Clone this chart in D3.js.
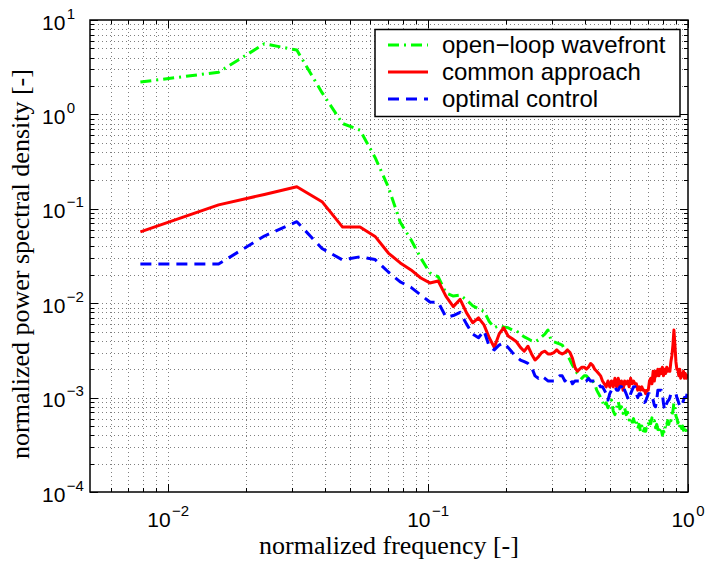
<!DOCTYPE html>
<html>
<head>
<meta charset="utf-8">
<script src="https://cdn.jsdelivr.net/npm/d3@7"></script>
<style>
  html, body { margin: 0; padding: 0; background: #fff; }
  svg { display: block; }
</style>
</head>
<body>
<svg id="chart" width="707" height="563"></svg>
<script>
// Spectra sampled on a uniform grid: f = k / 128, k = 1..128
const binCount = 128;
const freqs = d3.range(1, binCount + 1).map(k => k / binCount);

const openLoop = [
  2.2, 2.8, 5.6, 4.8, 1.7, 0.8, 0.68, 0.35, 0.17, 0.072,
  0.047, 0.030, 0.021, 0.019, 0.0128, 0.0119, 0.0122, 0.0108, 0.0094, 0.0087,
  0.0082, 0.0064, 0.0055, 0.0058, 0.0056, 0.0055, 0.0052, 0.0051, 0.0047, 0.0044,
  0.0042, 0.0040, 0.0039, 0.0041, 0.0044, 0.0047, 0.0052, 0.0041, 0.0039, 0.0038,
  0.0037, 0.0036, 0.0032, 0.0028, 0.0025, 0.0022, 0.0020, 0.0018, 0.0017, 0.0016,
  0.0017, 0.0017, 0.0016, 0.0015, 0.0015, 0.0014, 0.0012, 0.0011, 0.0010, 0.00091,
  0.00080, 0.00088, 0.00078, 0.00092, 0.00094, 0.00072, 0.00066, 0.00078, 0.00091, 0.00076,
  0.00080, 0.00068, 0.00078, 0.00066, 0.00070, 0.00058, 0.00062, 0.00055, 0.00060, 0.00052,
  0.00056, 0.00047, 0.00052, 0.00044, 0.00050, 0.00043, 0.00047, 0.00044, 0.00053, 0.00052,
  0.00060, 0.00053, 0.00061, 0.00055, 0.00057, 0.00048, 0.00052, 0.00046, 0.00050, 0.00043,
  0.00046, 0.00040, 0.00044, 0.00042, 0.00054, 0.00052, 0.00057, 0.00052, 0.00060, 0.00057,
  0.00066, 0.00072, 0.00088, 0.00080, 0.00064, 0.00060, 0.00054, 0.00057, 0.00050, 0.00053,
  0.00047, 0.00050, 0.00045, 0.00047, 0.00043, 0.00045, 0.00041, 0.00042
];

const commonApproach = [
  0.057, 0.11, 0.142, 0.171, 0.119, 0.064, 0.064, 0.051, 0.034, 0.0267,
  0.0225, 0.0185, 0.0164, 0.0172, 0.0118, 0.0092, 0.0110, 0.0079, 0.0062, 0.0070,
  0.0059, 0.0043, 0.0034, 0.0047, 0.0055, 0.0045, 0.0042, 0.0039, 0.0034, 0.0031,
  0.0035, 0.0029, 0.0025, 0.0027, 0.0030, 0.0031, 0.0029, 0.0029, 0.0030, 0.0032,
  0.0030, 0.0029, 0.0030, 0.0032, 0.0030, 0.0026, 0.0021, 0.0019, 0.0020, 0.0021,
  0.0021, 0.0020, 0.0021, 0.0023, 0.0022, 0.0020, 0.0019, 0.0018, 0.0017, 0.0015,
  0.0014, 0.0013, 0.0015, 0.0013, 0.0015, 0.0013, 0.0016, 0.0013, 0.0016, 0.0013,
  0.0015, 0.0012, 0.0015, 0.0014, 0.0015, 0.0013, 0.0016, 0.0014, 0.0015, 0.0014,
  0.0014, 0.0012, 0.0013, 0.0012, 0.0013, 0.0012, 0.0012, 0.0011, 0.0012, 0.0012,
  0.0015, 0.0016, 0.0014, 0.0019, 0.0015, 0.0019, 0.0017, 0.0020, 0.0017, 0.0020,
  0.0018, 0.0021, 0.0017, 0.0020, 0.0018, 0.0021, 0.0019, 0.0020, 0.0019, 0.0024,
  0.0028, 0.0036, 0.0052, 0.0036, 0.0024, 0.0020, 0.0020, 0.0017, 0.0020, 0.0016,
  0.0018, 0.0017, 0.0019, 0.0016, 0.0018, 0.0016, 0.0017, 0.0017
];

const optimalControl = [
  0.026, 0.026, 0.0515, 0.073, 0.038, 0.0287, 0.031, 0.029, 0.0214, 0.0168,
  0.0147, 0.0122, 0.0103, 0.0102, 0.0071, 0.0074, 0.0080, 0.0060, 0.0047, 0.0043,
  0.0051, 0.0035, 0.0032, 0.0036, 0.0038, 0.0034, 0.0030, 0.0027, 0.0025, 0.0024,
  0.0023, 0.0021, 0.0017, 0.0016, 0.0017, 0.0016, 0.0015, 0.0015, 0.0015, 0.0016,
  0.0017, 0.0017, 0.0015, 0.0016, 0.0016, 0.0014, 0.0015, 0.0015, 0.0015, 0.0015,
  0.0015, 0.0015, 0.0016, 0.0015, 0.0015, 0.0015, 0.0014, 0.0014, 0.0013, 0.0013,
  0.0012, 0.0011, 0.00094, 0.0011, 0.0012, 0.0013, 0.0013, 0.0012, 0.0012, 0.0013,
  0.0013, 0.0014, 0.0012, 0.0011, 0.0010, 0.00094, 0.0011, 0.0012, 0.0013, 0.0013,
  0.0011, 0.0010, 0.0011, 0.0011, 0.0010, 0.00094, 0.00089, 0.00092, 0.0010, 0.0011,
  0.0011, 0.0010, 0.0010, 0.00094, 0.00083, 0.00080, 0.00094, 0.0012, 0.0012, 0.0012,
  0.0012, 0.0011, 0.00087, 0.00074, 0.00081, 0.00087, 0.00092, 0.00094, 0.0010, 0.0011,
  0.0011, 0.0011, 0.0011, 0.0011, 0.0011, 0.0010, 0.00094, 0.00087, 0.00083, 0.00080,
  0.00081, 0.00087, 0.00094, 0.0010, 0.0010, 0.0010, 0.0011, 0.0011
];

const seriesNames = ["open\u2212loop wavefront", "common approach", "optimal control"];
const seriesColors = ["#00ff00", "#ff0000", "#0000ff"];
const seriesDashes = ["11,5,2,5", null, "11,7"];

const xDomain = [0.005, 1];
const yDomain = [1e-4, 10];
const xTickExponents = [-2, -1, 0];
const yTickExponents = [-4, -3, -2, -1, 0, 1];
const xLabel = "normalized frequency [-]";
const yLabel = "normalized power spectral density [-]";

// ---- layout ----
const W = 707, H = 563;
const plot = { left: 90, top: 20, right: 688, bottom: 492 };

const svg = d3.select("#chart");

const x = d3.scaleLog().domain(xDomain).range([plot.left, plot.right]);
const y = d3.scaleLog().domain(yDomain).range([plot.bottom, plot.top]);

// log decades and their 2..9 subdivisions inside the domain
function logTicks(domain) {
  const lo = Math.floor(Math.log10(domain[0]));
  const hi = Math.ceil(Math.log10(domain[1]));
  const major = [], minor = [];
  for (let e = lo; e <= hi; e++) {
    const base = Math.pow(10, e);
    if (base >= domain[0] * 0.9999 && base <= domain[1] * 1.0001) major.push(base);
    for (let m = 2; m <= 9; m++) {
      const v = m * base;
      if (v > domain[0] * 1.0001 && v < domain[1] * 0.9999) minor.push(v);
    }
  }
  return { major, minor };
}
const xt = logTicks(xDomain);
const yt = logTicks(yDomain);

// ---- dotted grid ----
const grid = svg.append("g")
  .attr("stroke", "#000")
  .attr("stroke-width", 1)
  .attr("stroke-dasharray", "1,3")
  .attr("stroke-opacity", 0.5)
  .attr("shape-rendering", "crispEdges");

grid.selectAll("line.gx")
  .data(xt.major.concat(xt.minor).filter(v => x(v) > plot.left + 1 && x(v) < plot.right - 1))
  .join("line")
  .attr("class", "gx")
  .attr("x1", d => Math.round(x(d)) + 0.5).attr("x2", d => Math.round(x(d)) + 0.5)
  .attr("y1", plot.top).attr("y2", plot.bottom);

grid.selectAll("line.gy")
  .data(yt.major.concat(yt.minor).filter(v => y(v) > plot.top + 1 && y(v) < plot.bottom - 1))
  .join("line")
  .attr("class", "gy")
  .attr("y1", d => Math.round(y(d)) + 0.5).attr("y2", d => Math.round(y(d)) + 0.5)
  .attr("x1", plot.left).attr("x2", plot.right);

// ---- spectra ----
svg.append("clipPath").attr("id", "plotClip")
  .append("rect")
  .attr("x", plot.left).attr("y", plot.top)
  .attr("width", plot.right - plot.left).attr("height", plot.bottom - plot.top);

const line = d3.line().x(d => x(d[0])).y(d => y(d[1]));
const series = [openLoop, commonApproach, optimalControl];

const curves = svg.append("g").attr("clip-path", "url(#plotClip)");
series.forEach((vals, i) => {
  curves.append("path")
    .datum(freqs.map((f, k) => [f, vals[k]]))
    .attr("fill", "none")
    .attr("stroke", seriesColors[i])
    .attr("stroke-width", 3)
    .attr("stroke-linejoin", "round")
    .attr("stroke-dasharray", seriesDashes[i])
    .attr("d", line);
});

// ---- axes box with inward ticks on all four sides ----
const ticks = svg.append("g").attr("stroke", "#000").attr("stroke-width", 1)
  .attr("shape-rendering", "crispEdges");
const majorLen = 8, minorLen = 4;

function xTickMarks(vals, len) {
  vals.forEach(v => {
    const px = Math.round(x(v)) + 0.5;
    ticks.append("line").attr("x1", px).attr("x2", px).attr("y1", plot.bottom).attr("y2", plot.bottom - len);
    ticks.append("line").attr("x1", px).attr("x2", px).attr("y1", plot.top).attr("y2", plot.top + len);
  });
}
function yTickMarks(vals, len) {
  vals.forEach(v => {
    const py = Math.round(y(v)) + 0.5;
    ticks.append("line").attr("y1", py).attr("y2", py).attr("x1", plot.left).attr("x2", plot.left + len);
    ticks.append("line").attr("y1", py).attr("y2", py).attr("x1", plot.right).attr("x2", plot.right - len);
  });
}
xTickMarks(xt.major, majorLen);
xTickMarks(xt.minor, minorLen);
yTickMarks(yt.major, majorLen);
yTickMarks(yt.minor, minorLen);

svg.append("rect")
  .attr("x", plot.left).attr("y", plot.top)
  .attr("width", plot.right - plot.left).attr("height", plot.bottom - plot.top)
  .attr("fill", "none").attr("stroke", "#000").attr("stroke-width", 1.5);

// ---- tick labels: 10 with a raised exponent ----
const tickFont = "'Liberation Sans', Arial, Helvetica, sans-serif";
function powerLabel(px, py, exp, anchor) {
  const t = svg.append("text")
    .attr("x", px).attr("y", py)
    .attr("text-anchor", anchor)
    .attr("font-family", tickFont)
    .attr("fill", "#000");
  t.append("tspan").attr("font-size", 21).text("10");
  t.append("tspan").attr("font-size", 15).attr("dx", 1.5).attr("dy", -11)
    .text(exp < 0 ? "\u2212" + Math.abs(exp) : String(exp));
}
xTickExponents.forEach(e => powerLabel(x(Math.pow(10, e)), 526.5, e, "middle"));
yTickExponents.forEach(e => powerLabel(42, y(Math.pow(10, e)) + 9.5, e, "start"));

// ---- axis titles ----
const titleFont = "'Liberation Serif', 'Times New Roman', serif";
svg.append("text")
  .attr("x", (plot.left + plot.right) / 2).attr("y", 554)
  .attr("text-anchor", "middle")
  .attr("font-family", titleFont).attr("font-size", 26)
  .text(xLabel);

svg.append("text")
  .attr("transform", `translate(29, ${(plot.top + plot.bottom) / 2 + 8}) rotate(-90)`)
  .attr("text-anchor", "middle")
  .attr("font-family", titleFont).attr("font-size", 26)
  .text(yLabel);

// ---- legend ----
const legend = svg.append("g");
legend.append("rect")
  .attr("x", 375).attr("y", 29.5).attr("width", 305).attr("height", 87)
  .attr("fill", "#fff").attr("stroke", "#000").attr("stroke-width", 1.5);

const rowBaselines = [53, 80, 107];
seriesNames.forEach((name, i) => {
  const cy = rowBaselines[i] - 8;
  legend.append("line")
    .attr("x1", 388).attr("x2", 428).attr("y1", cy).attr("y2", cy)
    .attr("stroke", seriesColors[i]).attr("stroke-width", 3)
    .attr("stroke-dasharray", seriesDashes[i]);
  legend.append("text")
    .attr("x", 442).attr("y", rowBaselines[i])
    .attr("font-family", tickFont).attr("font-size", 24)
    .text(name);
});
</script>
</body>
</html>
